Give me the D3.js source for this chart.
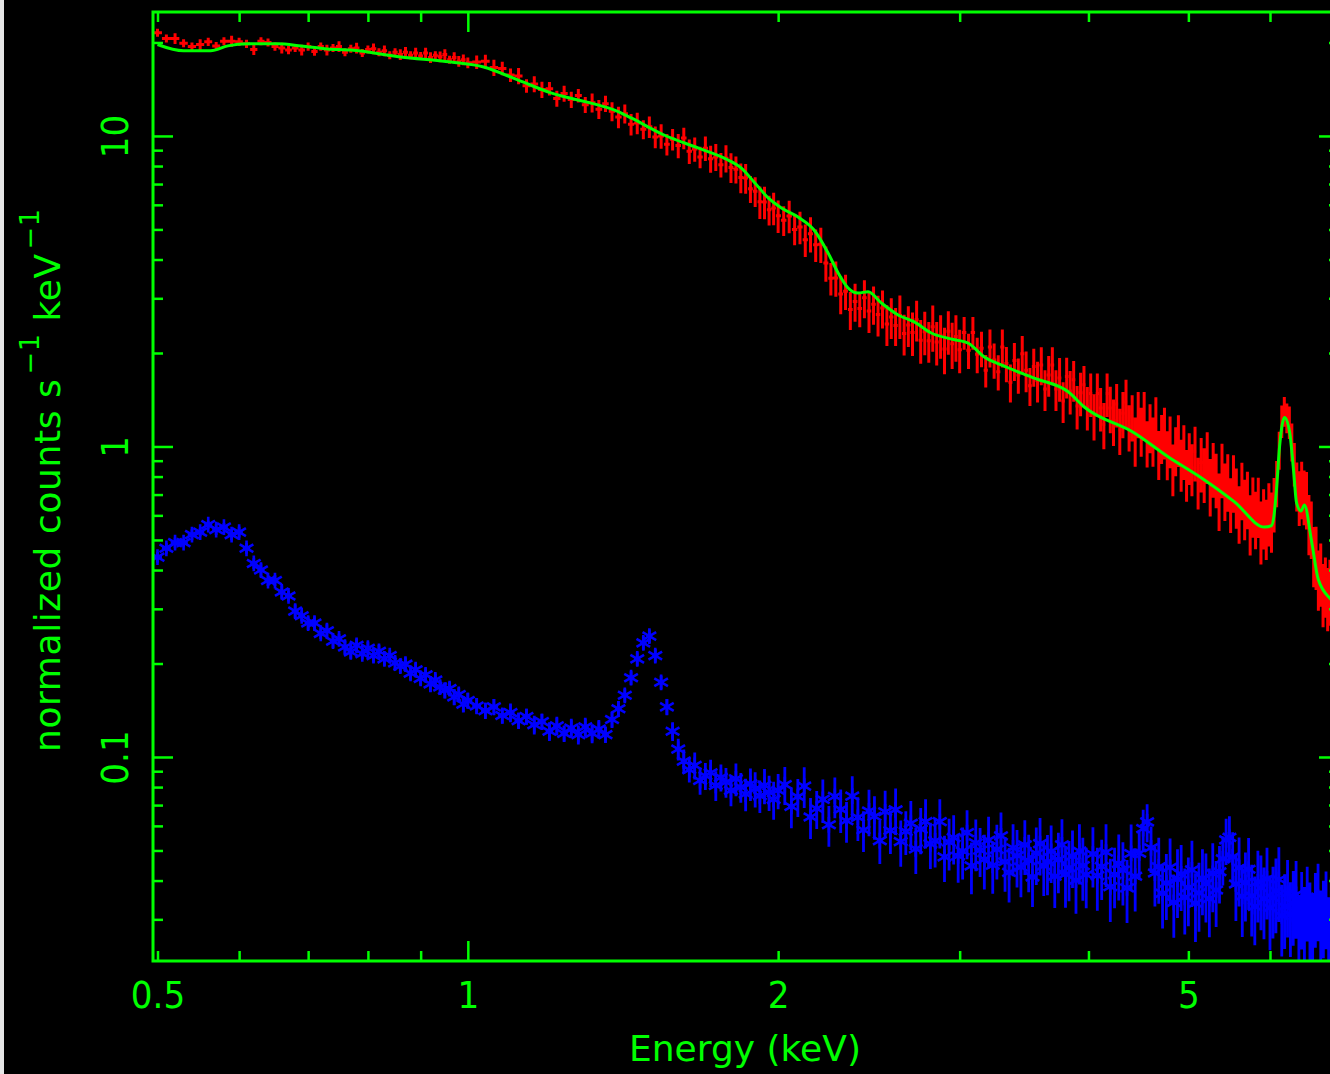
<!DOCTYPE html>
<html><head><meta charset="utf-8">
<script src="https://cdn.jsdelivr.net/npm/d3@7"></script>
<style>
html,body{margin:0;padding:0;background:#000;overflow:hidden;}
svg{display:block;}
</style></head><body>
<svg id="c" width="1330" height="1074"></svg>
<script>
// ---- model curve (green) ----
const modelE = [0.50,0.53,0.563,0.585,0.612,0.654,0.689,0.731,0.77,0.861,0.963,1.036,1.118,1.204,1.337,1.386,1.44,1.55,1.672,1.788,1.841,1.895,1.956,2.013,2.091,2.167,2.236,2.287,2.338,2.391,2.445,2.518,2.615,2.71,2.816,2.94,3.059,3.17,3.292,3.544,3.823,3.963,4.432,4.782,5.149,5.543,5.928,6.02,6.05,6.087,6.13,6.198,6.27,6.324,6.367,6.43,6.48,6.581,6.685,6.884,7.0];
const modelY = [19.7,18.8,18.8,19.5,19.8,19.8,19.5,19.06,18.9,17.96,17.3,16.68,15.15,13.76,12.59,12.13,11.43,10.07,9.15,8.37,7.89,7.11,6.32,5.87,5.48,4.98,4.20,3.62,3.24,3.12,3.15,2.90,2.65,2.52,2.32,2.22,2.15,1.94,1.83,1.66,1.50,1.34,1.105,0.925,0.792,0.663,0.550,0.556,0.59,0.724,1.0,1.24,1.11,0.84,0.658,0.62,0.648,0.500,0.372,0.320,0.300];

// ---- source spectrum (red) ----
const redE = [0.50,0.51,0.52,0.53,0.54,0.55,0.56,0.57,0.58,0.59,0.60,0.61,0.62,0.63,0.64,0.65,0.66,0.67,0.68,0.69,0.70,0.71,0.72,0.73,0.74,0.75,0.76,0.77,0.78,0.79,0.80,0.81,0.82,0.83,0.84,0.85,0.86,0.87,0.88,0.89,0.90,0.91,0.92,0.93,0.94,0.95,0.96,0.97,0.98,0.99,1.00,
1.02,1.04,1.06,1.08,1.10,1.12,1.14,1.16,1.18,1.20,1.22,1.24,1.26,1.28,1.30,1.32,1.34,1.36,1.38,1.40,1.42,1.44,1.46,1.48,1.50,1.52,1.54,1.56,1.58,1.60,1.62,1.64,1.66,1.68,1.70,1.72,1.74,1.76,1.78,1.80,1.82,1.84,1.86,1.88,1.90,1.92,1.94,1.96,1.98,2.00,
2.025,2.05,2.075,2.10,2.125,2.15,2.175,2.20,2.225,2.25,2.275,2.30,2.325,2.35,2.375,2.40,2.425,2.45,2.475,2.50,2.525,2.55,2.575,2.60,2.625,2.65,2.675,2.70,2.725,2.75,2.775,2.80,2.825,2.85,2.875,2.90,2.925,2.95,2.975,3.00,
3.03,3.06,3.09,3.12,3.15,3.18,3.21,3.24,3.27,3.30,3.33,3.36,3.39,3.42,3.45,3.48,3.51,3.54,3.57,3.60,3.63,3.66,3.69,3.72,3.75,3.78,3.81,3.84,3.87,3.90,3.93,3.96,3.99,4.02,4.05,4.08,4.11,4.14,4.17,4.20,4.23,4.26,4.29,4.32,4.35,4.38,4.41,4.44,4.47,4.50,4.53,4.56,4.59,4.62,4.65,4.68,4.71,4.74,4.77,4.80,4.83,4.86,4.89,4.92,4.95,4.98,5.01,
5.04,5.075,5.11,5.145,5.18,5.215,5.25,5.285,5.32,5.355,5.39,5.425,5.46,5.495,5.53,5.565,5.60,5.635,5.67,5.705,5.74,5.775,5.81,5.845,5.88,5.915,5.95,5.985,6.02,6.055,6.09,6.125,6.16,6.195,6.23,6.265,6.30,6.335,6.37,6.405,6.44,6.475,6.51,6.545,6.58,6.615,6.65,6.685,6.72,6.755,6.79,6.825,6.86,6.895,6.93,6.965,7.00];
const redY = [21.5,20.6,20.6,19.9,19.4,19.7,20.1,19.5,20.2,20.2,20.1,19.8,19.0,20.2,20.0,19.4,19.2,18.9,19.2,18.9,19.4,18.7,19.4,18.9,19.2,19.4,18.6,19.1,19.2,18.5,19.0,19.1,18.6,18.8,18.2,18.6,18.3,18.6,18.2,18.5,18.1,18.5,17.9,18.2,18.0,18.3,17.6,17.9,17.4,17.6,17.2,
17.3,17.4,16.6,16.5,15.7,15.6,14.5,14.7,14.1,14.2,13.2,13.7,13.1,13.5,12.6,12.8,12.2,12.7,12.0,11.5,11.8,10.9,11.0,10.5,10.7,9.93,10.0,9.40,9.75,9.31,9.84,8.93,9.07,8.55,9.13,8.45,8.56,8.08,8.48,7.92,7.81,7.35,7.32,6.76,6.63,6.14,6.13,5.78,5.86,5.53,
5.35,5.52,5.00,5.09,4.63,4.84,4.46,4.48,3.90,3.48,3.49,3.10,3.16,2.76,2.93,2.78,3.01,2.73,2.87,2.66,2.79,2.48,2.61,2.45,2.64,2.31,2.46,2.33,2.56,2.20,2.34,2.19,2.43,2.17,2.28,2.06,2.35,2.14,2.26,2.05,
2.33,2.04,2.33,1.98,2.07,1.76,2.09,1.90,1.74,2.09,1.85,1.61,1.89,1.70,1.99,1.76,1.57,1.81,1.63,1.83,1.53,1.70,1.83,1.53,1.66,1.40,1.68,1.51,1.64,1.35,1.49,1.58,1.34,1.48,1.26,1.48,1.33,1.18,1.48,1.33,1.21,1.37,1.13,1.28,1.39,1.16,1.25,1.05,1.28,1.13,1.27,1.03,1.16,1.05,1.21,0.951,1.07,1.12,0.949,1.05,0.853,0.977,1.06,0.883,0.975,0.819,0.927,
0.854,0.964,0.773,0.888,0.822,0.934,0.753,0.855,0.790,0.676,0.851,0.728,0.780,0.658,0.774,0.696,0.615,0.733,0.640,0.685,0.571,0.651,0.591,0.650,0.541,0.597,0.552,0.619,0.583,0.660,0.767,0.979,1.21,1.30,1.24,1.20,1.04,0.885,0.753,0.693,0.738,0.697,0.684,0.572,0.550,0.451,0.448,0.379,0.396,0.340,0.360,0.330,0.348,0.305,0.324,0.300,0.309];
const redErrPct = [3,3,4,3,3,4,3,3,3,4,3,3,4,3,3,3,4,3,3,4,3,3,3,4,3,4,3,3,4,3,3,4,3,4,3,3,4,4,3,4,3,4,4,3,4,4,3,4,4,4,4,
5,5,6,5,5,6,5,6,6,5,6,6,6,5,6,7,7,6,7,8,7,8,8,7,8,8,9,8,8,9,8,9,9,8,9,10,10,9,10,11,10,11,11,10,11,12,12,11,12,12,
11,12,11,12,12,13,12,13,13,12,13,14,13,14,14,13,14,15,14,15,14,15,15,14,16,15,15,16,15,16,16,15,17,16,16,17,16,17,17,16,
12,13,12,13,13,12,14,13,13,14,13,14,14,13,14,15,14,14,15,14,15,15,14,15,16,15,15,16,15,16,16,15,16,16,17,16,16,17,16,17,17,16,17,17,18,17,17,18,17,18,18,17,18,18,19,18,18,19,18,19,19,18,19,19,20,19,19,
19,20,19,20,20,19,21,20,20,21,20,21,21,20,21,22,21,21,22,21,22,22,21,22,23,22,22,23,22,20,17,14,12,11,11,12,14,16,18,20,21,20,21,22,21,22,23,22,23,23,22,23,24,23,24,23,24];

// ---- background spectrum (blue) ----
const blueE = [0.50,0.51,0.52,0.53,0.54,0.55,0.56,0.57,0.58,0.59,0.60,0.61,0.62,0.63,0.64,0.65,0.66,0.67,0.68,0.69,0.70,0.71,0.72,0.73,0.74,0.75,0.76,0.77,0.78,0.79,0.80,0.81,0.82,0.83,0.84,0.85,0.86,0.87,0.88,0.89,0.90,0.91,0.92,0.93,0.94,0.95,0.96,0.97,0.98,0.99,1.00,
1.02,1.04,1.06,1.08,1.10,1.12,1.14,1.16,1.18,1.20,1.22,1.24,1.26,1.28,1.30,1.32,1.34,1.36,1.38,1.40,1.42,1.44,1.46,1.48,1.50,1.52,1.54,1.56,1.58,1.60,1.62,1.64,1.66,1.68,1.70,1.72,1.74,1.76,1.78,1.80,1.82,1.84,1.86,1.88,1.90,1.92,1.94,1.96,1.98,2.00,
2.03,2.06,2.09,2.12,2.15,2.18,2.21,2.24,2.27,2.30,2.33,2.36,2.39,2.42,2.45,2.48,2.51,2.54,2.57,2.60,2.63,2.66,2.69,2.72,2.75,2.78,2.81,2.84,2.87,2.90,2.93,2.96,2.99,3.02,3.05,3.08,3.11,3.14,3.17,3.20,3.23,3.26,3.29,3.32,3.35,3.38,3.41,3.44,3.47,3.50,3.53,3.56,3.59,3.62,3.65,3.68,3.71,3.74,3.77,3.80,3.83,3.86,3.89,3.92,3.95,3.98,
4.04,4.08,4.12,4.16,4.20,4.24,4.28,4.32,4.36,4.40,4.44,4.48,4.52,4.56,4.60,4.64,4.68,4.72,4.76,4.80,4.84,4.88,4.92,4.96,5.00,5.04,5.08,5.12,5.16,5.20,5.24,5.28,5.32,5.36,5.40,5.44,5.48,5.52,5.56,5.60,5.64,5.68,5.72,5.76,5.80,5.84,5.88,5.92,5.96,6.00,6.04,6.08,6.12,6.16,6.20,6.24,6.28,6.32,6.36,6.40,6.44,6.48,6.52,6.56,6.60,6.64,6.68,6.72,6.76,6.80,6.84,6.88,6.92,6.96,7.00];
const blueY = [0.44,0.47,0.49,0.49,0.52,0.53,0.56,0.54,0.55,0.52,0.53,0.47,0.42,0.40,0.37,0.37,0.34,0.33,0.295,0.285,0.27,0.27,0.25,0.255,0.236,0.24,0.226,0.218,0.229,0.215,0.224,0.212,0.219,0.207,0.212,0.201,0.196,0.199,0.186,0.191,0.179,0.184,0.172,0.177,0.168,0.164,0.166,0.156,0.159,0.148,0.152,
0.146,0.141,0.145,0.136,0.139,0.131,0.135,0.127,0.130,0.121,0.126,0.119,0.124,0.118,0.125,0.119,0.123,0.118,0.132,0.143,0.158,0.180,0.207,0.233,0.245,0.212,0.174,0.145,0.121,0.106,0.097,0.091,0.094,0.084,0.087,0.089,0.081,0.086,0.083,0.078,0.085,0.080,0.076,0.082,0.079,0.075,0.081,0.077,0.073,0.078,
0.0815,0.0693,0.0745,0.0806,0.0641,0.0682,0.0730,0.0605,0.0747,0.0678,0.0623,0.0748,0.0639,0.0582,0.0670,0.0644,0.0538,0.0666,0.0580,0.0676,0.0534,0.0576,0.0612,0.0506,0.0586,0.0619,0.0525,0.0537,0.0619,0.0477,0.0532,0.0550,0.0480,0.0498,0.0571,0.0446,0.0529,0.0501,0.0468,0.0540,0.0448,0.0504,0.0557,0.0460,0.0425,0.0510,0.0481,0.0442,0.0521,0.0464,0.0411,0.0490,0.0526,0.0446,0.0460,0.0497,0.0413,0.0467,0.0521,0.0419,0.0440,0.0479,0.0401,0.0498,0.0447,0.0418,
0.0487,0.0415,0.0444,0.0494,0.0382,0.0418,0.0454,0.0432,0.0379,0.0489,0.0413,0.0490,0.0588,0.0618,0.0510,0.0423,0.0443,0.0364,0.0393,0.0441,0.0340,0.0404,0.0420,0.0353,0.0380,0.0433,0.0338,0.0365,0.0407,0.0391,0.0350,0.0422,0.0373,0.0427,0.0470,0.0541,0.0551,0.0477,0.0390,0.0440,0.0356,0.0394,0.0435,0.0357,0.0330,0.0396,0.0379,0.0350,0.0405,0.0327,0.0352,0.0371,0.0403,0.0308,0.0330,0.0364,0.0311,0.0338,0.0361,0.0280,0.0333,0.0298,0.0349,0.0308,0.0283,0.0333,0.0354,0.0288,0.0312,0.0334,0.0274,0.0320,0.0338,0.0291,0.0307];
const blueErrPct = [4,4,4,3,4,3,3,4,3,4,4,4,4,5,4,4,5,4,5,4,5,5,4,5,5,4,5,5,5,4,5,5,5,5,4,5,5,5,5,5,5,5,6,5,5,6,5,6,5,6,6,
6,6,6,6,7,6,6,7,6,7,7,6,7,7,7,7,7,6,6,6,5,5,5,5,5,5,5,6,7,8,9,9,10,10,10,10,11,10,11,11,12,11,12,12,13,12,13,13,14,13,
14,15,14,15,15,14,16,15,15,16,15,16,16,15,17,16,16,17,16,17,17,16,18,17,17,18,17,18,18,17,19,18,18,19,18,19,19,18,20,19,19,20,19,20,20,19,21,20,20,21,20,21,21,20,22,21,21,22,21,22,22,21,22,22,23,22,
22,23,22,23,23,22,24,23,23,24,23,18,15,14,17,22,24,23,24,24,23,25,24,24,25,24,25,25,24,25,25,25,24,21,18,17,17,20,24,25,26,25,26,26,25,26,27,26,26,27,26,27,27,26,27,28,27,27,28,27,28,28,27,28,28,27,28,29,28,28,29,28,29,29,28];

// ---- axis labels / ticks ----
const xLabelTicks = [0.5,1,2,5];
const xMajorTicks = [1];
const xMinorTicks = [0.5,0.6,0.7,0.8,0.9,2,3,4,5,6,7];
const yLabelTicks = [0.1,1,10];
const yMajorTicks = [0.1,1,10];
const yMinorTicks = [0.03,0.04,0.05,0.06,0.07,0.08,0.09,0.2,0.3,0.4,0.5,0.6,0.7,0.8,0.9,2,3,4,5,6,7,8,9,20];
const xTitle = "Energy (keV)";

const GREEN = "#00ff00", RED = "#ff0000", BLUE = "#0000ff";
const FONT_NUM = "'DejaVu Sans Condensed','DejaVu Sans',sans-serif";
const FONT_TTL = "'DejaVu Sans',sans-serif";
const W = 1330, H = 1074;
const L = 153, R = 1339, T = 12, B = 961;

const svg = d3.select("#c");
svg.append("rect").attr("width", W).attr("height", H).attr("fill", "#000");
svg.append("rect").attr("x", 0).attr("y", 0).attr("width", 4).attr("height", H).attr("fill", "#e6e6e6");

const x = d3.scaleLog().domain([0.495, 7.0]).range([L, R]);
const y = d3.scaleLog().domain([0.02203, 25.07]).range([B, T]);

svg.append("defs").append("clipPath").attr("id", "plotclip")
  .append("rect").attr("x", L).attr("y", T).attr("width", R - L).attr("height", B - T);

function edges(E) {
  return E.map((e, i) => {
    const lo = i > 0 ? (E[i - 1] + e) / 2 : e - (E[1] - E[0]) / 2;
    const hi = i < E.length - 1 ? (e + E[i + 1]) / 2 : e + (e - E[i - 1]) / 2;
    return [lo, hi];
  });
}

const plot = svg.append("g").attr("clip-path", "url(#plotclip)");

// blue background points
const bEdges = edges(blueE);
const blueG = plot.append("g").attr("stroke", BLUE).attr("fill", "none").attr("stroke-width", 2.8);
let bPath = "";
blueE.forEach((e, i) => {
  const v = blueY[i], r = blueErrPct[i] / 100;
  bPath += `M${x(bEdges[i][0])},${y(v)}H${x(bEdges[i][1])}`;
  bPath += `M${x(e)},${y(v * (1 + r))}V${y(v * (1 - r))}`;
});
blueG.append("path").attr("d", bPath);
const star = d3.symbol(d3.symbolAsterisk, 175);
blueG.selectAll("path.star").data(blueE).join("path").attr("class", "star")
  .attr("d", star)
  .attr("stroke-width", 2.6)
  .attr("transform", (e, i) => `translate(${x(e)},${y(blueY[i])})`);

// red source points
const rEdges = edges(redE);
let rPath = "";
redE.forEach((e, i) => {
  const v = redY[i], r = redErrPct[i] / 100;
  rPath += `M${x(rEdges[i][0])},${y(v)}H${x(rEdges[i][1])}`;
  rPath += `M${x(e)},${y(v * (1 + r))}V${y(v * (1 - r))}`;
});
plot.append("path").attr("d", rPath).attr("stroke", RED).attr("stroke-width", 3).attr("fill", "none");

// green model
const line = d3.line().x((d, i) => x(modelE[i])).y((d, i) => y(modelY[i])).curve(d3.curveMonotoneX);
plot.append("path").attr("d", line(modelE)).attr("stroke", GREEN).attr("stroke-width", 3).attr("fill", "none").attr("stroke-linejoin", "round");

// frame
svg.append("rect").attr("x", L).attr("y", T).attr("width", R - L).attr("height", B - T)
  .attr("fill", "none").attr("stroke", GREEN).attr("stroke-width", 3);

function styleTicks(g) {
  g.select(".domain").remove();
  g.selectAll(".tick line").attr("stroke", GREEN).attr("stroke-width", 2.5);
  g.selectAll(".tick text").remove();
}
svg.append("g").attr("transform", `translate(0,${B})`).call(d3.axisBottom(x).tickValues(xMinorTicks).tickSize(-10).tickSizeOuter(0)).call(styleTicks);
svg.append("g").attr("transform", `translate(0,${B})`).call(d3.axisBottom(x).tickValues(xMajorTicks).tickSize(-20).tickSizeOuter(0)).call(styleTicks);
svg.append("g").attr("transform", `translate(0,${T})`).call(d3.axisTop(x).tickValues(xMinorTicks).tickSize(-10).tickSizeOuter(0)).call(styleTicks);
svg.append("g").attr("transform", `translate(0,${T})`).call(d3.axisTop(x).tickValues(xMajorTicks).tickSize(-20).tickSizeOuter(0)).call(styleTicks);
svg.append("g").attr("transform", `translate(${L},0)`).call(d3.axisLeft(y).tickValues(yMinorTicks).tickSize(-10).tickSizeOuter(0)).call(styleTicks);
svg.append("g").attr("transform", `translate(${L},0)`).call(d3.axisLeft(y).tickValues(yMajorTicks).tickSize(-20).tickSizeOuter(0)).call(styleTicks);
svg.append("g").attr("transform", `translate(${R},0)`).call(d3.axisRight(y).tickValues(yMinorTicks).tickSize(-10).tickSizeOuter(0)).call(styleTicks);
svg.append("g").attr("transform", `translate(${R},0)`).call(d3.axisRight(y).tickValues(yMajorTicks).tickSize(-20).tickSizeOuter(0)).call(styleTicks);

// tick labels
const fmt = d3.format("~g");
const xl = svg.append("g").attr("transform", `translate(0,${B})`)
  .call(d3.axisBottom(x).tickValues(xLabelTicks).tickSize(0).tickSizeOuter(0).tickPadding(0).tickFormat(fmt));
xl.select(".domain").remove();
xl.selectAll(".tick text").attr("y", 47).attr("dy", null)
  .style("font-family", FONT_NUM).style("font-size", "38px").style("fill", GREEN).style("font-stretch", "condensed");

const yl = svg.append("g").attr("transform", `translate(${L},0)`)
  .call(d3.axisLeft(y).tickValues(yLabelTicks).tickSize(0).tickSizeOuter(0).tickFormat(fmt));
yl.select(".domain").remove();
yl.selectAll(".tick text").attr("x", 0).attr("dy", null).attr("text-anchor", "middle")
  .attr("transform", "translate(-25,0) rotate(-90)")
  .style("font-family", FONT_NUM).style("font-size", "38px").style("fill", GREEN).style("font-stretch", "condensed");

// axis titles
svg.append("text").attr("x", 745).attr("y", 1061).attr("text-anchor", "middle")
  .style("font-family", FONT_TTL).style("font-size", "36px").style("fill", GREEN)
  .text(xTitle);

const yt = svg.append("text").attr("transform", "translate(60,752) rotate(-90)")
  .style("font-family", FONT_TTL).style("font-size", "36px").style("fill", GREEN).style("letter-spacing", "0.6px");
yt.append("tspan").text("normalized counts s");
yt.append("tspan").attr("dx", 4).attr("dy", -21).style("font-size", "27px").text("\u22121");
yt.append("tspan").attr("dy", 21).text(" keV");
yt.append("tspan").attr("dx", 4).attr("dy", -21).style("font-size", "27px").text("\u22121");
</script>
</body></html>
